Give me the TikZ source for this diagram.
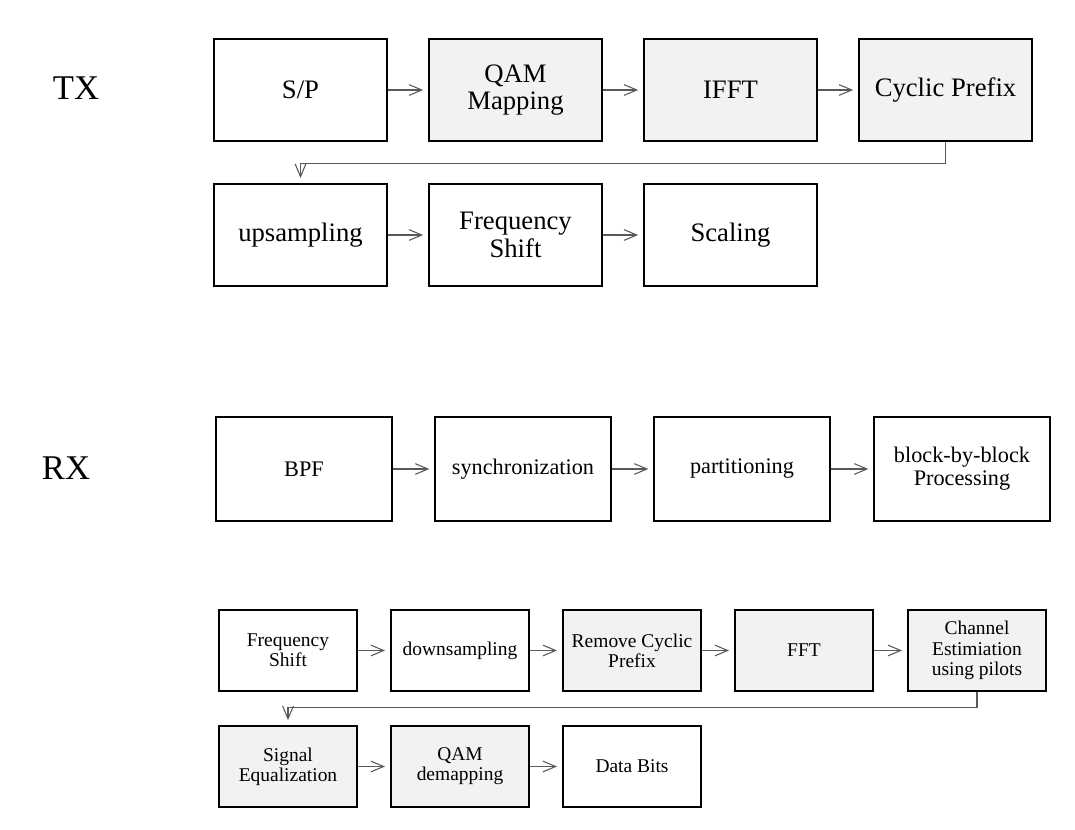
\documentclass[tikz,border=0pt]{standalone}
\usepackage{fontspec}
\setmainfont{Liberation Serif}
\usetikzlibrary{arrows.meta}
\definecolor{boxgrey}{HTML}{F2F2F2}
\definecolor{arrowgrey}{HTML}{595959}
\begin{document}
\begin{tikzpicture}[x=0.75pt,y=-0.75pt,
 box/.style={draw=black, line width=1.5pt, inner sep=0pt, align=center},
 txbox/.style={box, minimum width=130pt, minimum height=77pt, font=\fontsize{20}{20.5}\selectfont},
 rxabox/.style={box, minimum width=132pt, minimum height=78.5pt, font=\fontsize{16.7}{17.2}\selectfont},
 rxbbox/.style={box, minimum width=104pt, minimum height=61pt, font=\fontsize{14.6}{15.2}\selectfont},
 shaded/.style={fill=boxgrey},
 side/.style={font=\fontsize{26}{28}\selectfont},
 arr/.style={draw=arrowgrey, line width=0.8pt, -{Straight Barb[length=9.5pt,width=8pt]}, shorten >=3.5pt}
]
\useasboundingbox[fill=white] (0,0) rectangle (1075,830);

\node[side] (tx) at (76,88) {TX};
\node[side] (rx) at (66,468) {RX};

% TX
\node[txbox] (sp) at (300.5,90) {S/P};
\node[txbox,shaded] (qam) at (515.5,90) {QAM\\Mapping};
\node[txbox,shaded] (ifft) at (730.5,90) {IFFT};
\node[txbox,shaded] (cp) at (945.5,90) {Cyclic Prefix};
\node[txbox] (up) at (300.5,235) {upsampling};
\node[txbox] (fs) at (515.5,235) {Frequency\\Shift};
\node[txbox] (sc) at (730.5,235) {Scaling};

\draw[arr] (sp) -- (qam);
\draw[arr] (qam) -- (ifft);
\draw[arr] (ifft) -- (cp);
\draw[arr] (cp.south) -- ([yshift=-15.75pt]cp.south) -| (up.north);
\draw[arr] (up) -- (fs);
\draw[arr] (fs) -- (sc);

% RX row 1
\node[rxabox] (bpf) at (304,469) {BPF};
\node[rxabox] (sync) at (523,469) {synchronization};
\node[rxabox] (part) at (742,469) {partitioning};
\node[rxabox] (bbb) at (962,469) {block-by-block\\Processing};
\draw[arr] (bpf) -- (sync);
\draw[arr] (sync) -- (part);
\draw[arr] (part) -- (bbb);

% RX row 2
\node[rxbbox] (rfs) at (288,650.5) {Frequency\\Shift};
\node[rxbbox] (down) at (460,650.5) {downsampling};
\node[rxbbox,shaded] (rcp) at (632,650.5) {Remove Cyclic\\Prefix};
\node[rxbbox,shaded] (fft) at (804,650.5) {FFT};
\node[rxbbox,shaded] (ce) at (977,650.5) {Channel\\Estimiation\\using pilots};
\draw[arr] (rfs) -- (down);
\draw[arr] (down) -- (rcp);
\draw[arr] (rcp) -- (fft);
\draw[arr] (fft) -- (ce);

% RX row 3
\node[rxbbox,shaded] (eq) at (288,766.5) {Signal\\Equalization};
\node[rxbbox,shaded] (qdm) at (460,766.5) {QAM\\demapping};
\node[rxbbox] (bits) at (632,766.5) {Data Bits};
\draw[arr] (ce.south) -- ([yshift=-11.25pt]ce.south) -| (eq.north);
\draw[arr] (eq) -- (qdm);
\draw[arr] (qdm) -- (bits);
\end{tikzpicture}
\end{document}
